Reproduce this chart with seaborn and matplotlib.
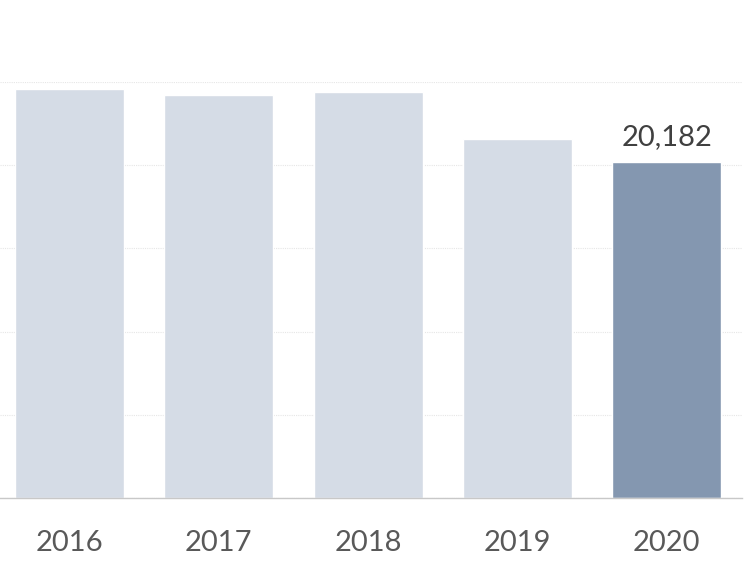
import matplotlib
matplotlib.use("Agg")
import matplotlib.pyplot as plt
import seaborn as sns
import pandas as pd

years = ["2016", "2017", "2018", "2019", "2020"]
values = [24560, 24200, 24380, 21560, 20182]
bar_colors = ["#d5dce6", "#d5dce6", "#d5dce6", "#d5dce6", "#8497b0"]

df = pd.DataFrame({"year": years, "value": values})

sns.set_style("white")
plt.rcParams["font.family"] = ["Lato", "DejaVu Sans"]

fig = plt.figure(figsize=(7.56, 5.67), dpi=100)
ax = fig.add_axes([0.0, 1 - 498 / 567, 742 / 756, (498 - 82) / 567])

sns.barplot(data=df, x="year", y="value", hue="year", palette=bar_colors,
            saturation=1, width=0.73, legend=False, ax=ax, zorder=2)

ax.set_xlim(-0.465, 4.505)
ax.set_ylim(0, 25000)
ax.set_yticks([0, 5000, 10000, 15000, 20000, 25000])
ax.yaxis.grid(True, color="#e6e6e6", linewidth=0.8, linestyle=(0, (1, 1)), zorder=0)
ax.set_yticklabels([])
ax.tick_params(axis="y", length=0)
ax.tick_params(axis="x", length=0, labelsize=21, labelcolor="#595959", pad=23)
ax.set_xlabel("")
ax.set_ylabel("")
for side in ["top", "left", "right"]:
    ax.spines[side].set_visible(False)
ax.spines["bottom"].set_color("#c8c8c8")
ax.spines["bottom"].set_linewidth(1)

ax.annotate(f"{values[-1]:,}", xy=(4, values[-1]), xytext=(0, 9),
            textcoords="offset points", ha="center", va="bottom",
            fontsize=21, color="#404040")

plt.savefig("out.png", dpi=100)
plt.close()
